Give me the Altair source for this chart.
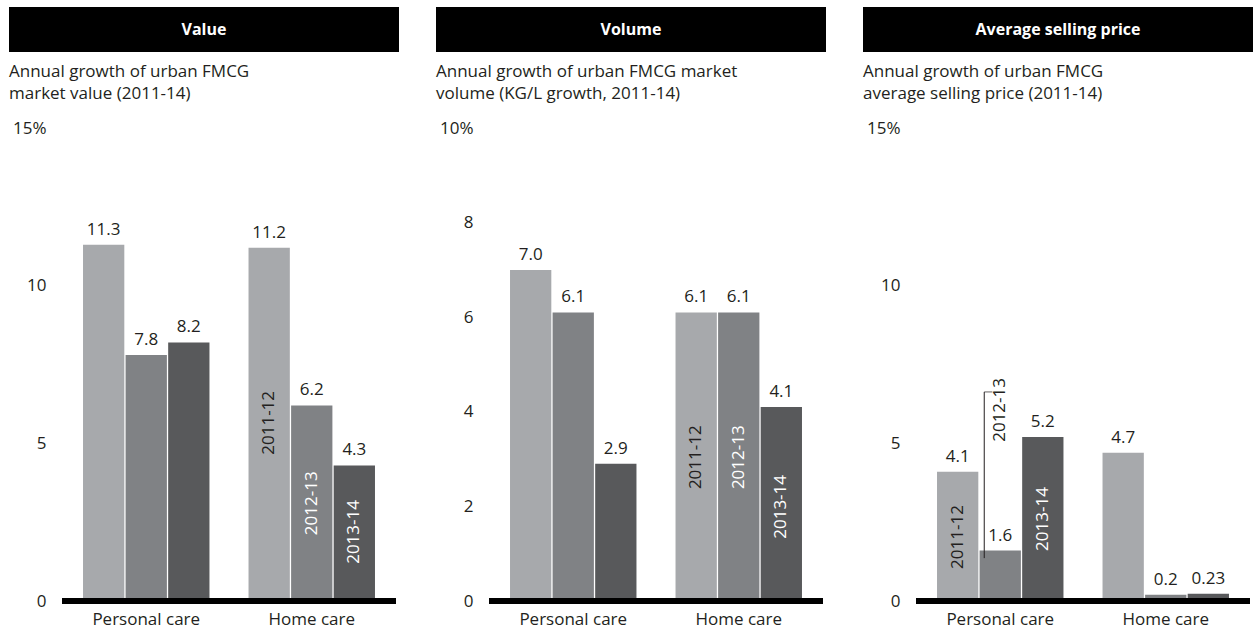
import altair as alt
import pandas as pd

categories = ["Personal care", "Home care"]
periods = ["2011-12", "2012-13", "2013-14"]

titles = ["Value", "Volume", "Average selling price"]
subtitles = [
    "Annual growth of urban FMCG\nmarket value (2011-14)",
    "Annual growth of urban FMCG market\nvolume (KG/L growth, 2011-14)",
    "Annual growth of urban FMCG\naverage selling price (2011-14)",
]

value_personal = [11.3, 7.8, 8.2]
value_home = [11.2, 6.2, 4.3]
volume_personal = [7.0, 6.1, 2.9]
volume_home = [6.1, 6.1, 4.1]
price_personal = [4.1, 1.6, 5.2]
price_home = [4.7, 0.2, 0.23]

value_labels = ["11.3", "7.8", "8.2", "11.2", "6.2", "4.3"]
volume_labels = ["7.0", "6.1", "2.9", "6.1", "6.1", "4.1"]
price_labels = ["4.1", "1.6", "5.2", "4.7", "0.2", "0.23"]

y_max = [15, 10, 15]
y_ticks = [[0, 5, 10, 15], [0, 2, 4, 6, 8, 10], [0, 5, 10, 15]]

# in-bar period annotations (category, anchor values in data units)
period_label_cat = ["Home care", "Home care", "Personal care"]
period_label_anchor = [[5.65, 3.1, 2.19], [3.04, 3.04, 1.99], [2.03, 6.06, 2.6]]

# bracket connecting the "2012-13" label to its bar (price panel)
bracket_top, bracket_bottom = 6.63, 1.36

colors = ["#a7a9ac", "#808285", "#58595b"]
TXT = "#231f20"
FONT = "Open Sans"
W, H = 334, 473


def panel(i, personal, home, labels, bracket=False):
    ymax = y_max[i]
    values = personal + home
    df = pd.DataFrame({
        "category": [c for c in categories for _ in periods],
        "period": periods * 2,
        "value": values,
        "label": labels,
    })
    yscale = alt.Scale(domain=[0, ymax], nice=False, zero=True)
    x = alt.X("category:N", sort=categories,
              scale=alt.Scale(paddingInner=0.236, paddingOuter=0.127),
              axis=alt.Axis(title=None, labelAngle=0, domain=False, ticks=False,
                            labelFontSize=17, labelPadding=10, labelColor=TXT))
    xo = alt.XOffset("period:N", sort=periods, scale=alt.Scale(paddingInner=0.03))
    y = alt.Y("value:Q", scale=yscale,
              axis=alt.Axis(values=y_ticks[i], title=None, grid=False, domain=False,
                            ticks=False, labelFontSize=17, labelPadding=16, labelColor=TXT,
                            labelExpr=f"datum.value >= {ymax} ? datum.label + '%' : datum.label"))
    base = alt.Chart(df)
    bars = base.mark_bar().encode(
        x=x, xOffset=xo, y=y,
        color=alt.Color("period:N", sort=periods,
                        scale=alt.Scale(domain=periods, range=colors), legend=None),
    )
    vals = base.mark_text(baseline="bottom", dy=-6, fontSize=17, color=TXT).encode(
        x=x, xOffset=xo, y=alt.Y("value:Q", scale=yscale), text="label:N")

    cat = period_label_cat[i]
    bar_vals = personal if cat == "Personal care" else home
    pdf = pd.DataFrame({
        "category": [cat] * 3,
        "period": periods,
        "anchor": period_label_anchor[i],
        "barval": bar_vals,
    })
    ptext = alt.Chart(pdf).mark_text(angle=270, fontSize=17, align="center",
                                     baseline="middle").encode(
        x=x, xOffset=xo, y=alt.Y("anchor:Q", scale=yscale), text="period:N",
        color=alt.condition("datum.period == '2011-12' || datum.anchor > datum.barval",
                            alt.value(TXT), alt.value("white")),
    )

    hdr_df = pd.DataFrame({"t": [titles[i]], "s": [subtitles[i]]})
    hdr = alt.Chart(hdr_df).mark_rect(color="black").encode(
        x=alt.value(-53), x2=alt.value(W + 3), y=alt.value(-121), y2=alt.value(-76))
    hdr_text = alt.Chart(hdr_df).mark_text(color="white", fontSize=16, fontWeight="bold",
                                           align="center", baseline="middle").encode(
        x=alt.value((W - 50) / 2), y=alt.value(-98), text="t:N")
    sub = alt.Chart(hdr_df).mark_text(align="left", baseline="top", fontSize=17,
                                      lineHeight=22, lineBreak="\n", color=TXT).encode(
        x=alt.value(-53), y=alt.value(-64), text="s:N")

    rule = alt.Chart(pd.DataFrame({"z": [0]})).mark_rule(color="black", strokeWidth=6).encode(
        y=alt.datum(0, scale=yscale))

    layers = [hdr, hdr_text, sub, bars, vals, ptext, rule]
    if bracket:
        bdf = pd.DataFrame({"category": ["Personal care"],
                            "top": [bracket_top], "bottom": [bracket_bottom]})
        vline = alt.Chart(bdf).mark_rule(color=TXT, strokeWidth=1, xOffset=-16).encode(
            x=x, y=alt.Y("top:Q", scale=yscale), y2="bottom:Q")
        hline = alt.Chart(bdf).mark_tick(color=TXT, orient="horizontal", size=8,
                                          thickness=1, xOffset=-12).encode(
            x=x, y=alt.Y("top:Q", scale=yscale))
        layers += [vline, hline]
    return alt.layer(*layers).properties(width=W, height=H)


p1 = panel(0, value_personal, value_home, value_labels)
p2 = panel(1, volume_personal, volume_home, volume_labels)
p3 = panel(2, price_personal, price_home, price_labels, bracket=True)

chart = alt.hconcat(p1, p2, p3, spacing=37).properties(
    padding={"left": 9, "top": 7, "right": 0, "bottom": 2}
).configure(font=FONT).configure_view(stroke=None)

chart.save("out.html", embed_options={"renderer": "svg", "actions": False})
